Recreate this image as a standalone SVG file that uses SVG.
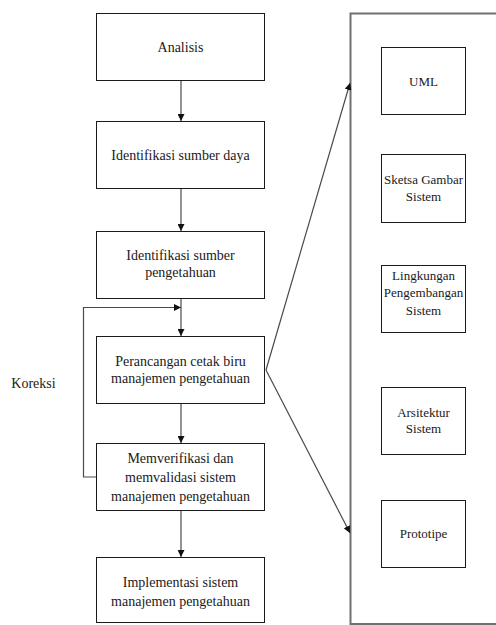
<svg xmlns="http://www.w3.org/2000/svg" width="496" height="625" viewBox="0 0 496 625">
  <style>
    .box { fill: #ffffff; stroke: #1a1a1a; stroke-width: 1; }
    .frame { fill: none; stroke: #707070; stroke-width: 2; }
    .link { fill: none; stroke: #4a4a4a; stroke-width: 1.2; }
    .lbl { font-family: 'Liberation Serif', 'Times New Roman', Times, Tinos, 'Nimbus Roman', 'Nimbus Roman No9 L', FreeSerif, 'Noto Serif', 'DejaVu Serif', serif; font-size: 14px; fill: #1a1a1a; text-anchor: middle; }
    .sm { font-size: 13px; }
  </style>
  <defs>
    <marker id="head" viewBox="0 0 10 10" refX="10" refY="5" markerWidth="7" markerHeight="7" markerUnits="userSpaceOnUse" orient="auto">
      <path d="M0,0 L10,5 L0,10 z" fill="#111111"/>
    </marker>
  </defs>

  <rect width="496" height="625" fill="#ffffff"/>

  <!-- Tool container on the right (open past the page edge) -->
  <g id="tools-frame">
    <path class="frame" d="M498,13.5 H350.5 V624 H498"/>
  </g>

  <!-- Connectors -->
  <g id="connectors">
    <line class="link" x1="181" y1="80" x2="181" y2="121" marker-end="url(#head)"/>
    <line class="link" x1="181" y1="189" x2="181" y2="231" marker-end="url(#head)"/>
    <line class="link" x1="181" y1="299" x2="181" y2="336" marker-end="url(#head)"/>
    <line class="link" x1="181" y1="404" x2="181" y2="443" marker-end="url(#head)"/>
    <line class="link" x1="181" y1="511" x2="181" y2="557" marker-end="url(#head)"/>
    <!-- correction loop -->
    <path class="link" d="M96,477 H83.5 V307.5 H181" marker-end="url(#head)"/>
    <!-- fan-out to the tool frame -->
    <line class="link" x1="266" y1="370" x2="350" y2="83" marker-end="url(#head)"/>
    <line class="link" x1="266" y1="370" x2="350" y2="533" marker-end="url(#head)"/>
  </g>

  <g id="koreksi">
    <text class="lbl" x="33.5" y="388">Koreksi</text>
  </g>

  <!-- Main process steps -->
  <g id="analisis">
    <rect class="box" x="96.5" y="13.5" width="168" height="67"/>
    <text class="lbl" x="180.5" y="52">Analisis</text>
  </g>
  <g id="identifikasi-sumber-daya">
    <rect class="box" x="96.5" y="121.5" width="168" height="67"/>
    <text class="lbl" x="180.5" y="160">Identifikasi sumber daya</text>
  </g>
  <g id="identifikasi-sumber-pengetahuan">
    <rect class="box" x="96.5" y="231.5" width="168" height="67"/>
    <text class="lbl" x="180.5" y="260">Identifikasi sumber</text>
    <text class="lbl" x="180.5" y="277">pengetahuan</text>
  </g>
  <g id="perancangan">
    <rect class="box" x="96.5" y="336.5" width="168" height="67"/>
    <text class="lbl" x="180.5" y="366">Perancangan cetak biru</text>
    <text class="lbl" x="180.5" y="383">manajemen pengetahuan</text>
  </g>
  <g id="verifikasi">
    <rect class="box" x="96.5" y="443.5" width="168" height="67"/>
    <text class="lbl" x="180.5" y="463">Memverifikasi dan</text>
    <text class="lbl" x="180.5" y="482">memvalidasi sistem</text>
    <text class="lbl" x="180.5" y="501">manajemen pengetahuan</text>
  </g>
  <g id="implementasi">
    <rect class="box" x="96.5" y="557.5" width="168" height="65"/>
    <text class="lbl" x="180.5" y="587">Implementasi sistem</text>
    <text class="lbl" x="180.5" y="606">manajemen pengetahuan</text>
  </g>

  <!-- Tool items -->
  <g id="uml">
    <rect class="box" x="381.5" y="47.5" width="84" height="67"/>
    <text class="lbl sm" x="423.5" y="86">UML</text>
  </g>
  <g id="sketsa">
    <rect class="box" x="381.5" y="154.5" width="84" height="68"/>
    <text class="lbl sm" x="423.5" y="184">Sketsa Gambar</text>
    <text class="lbl sm" x="423.5" y="201">Sistem</text>
  </g>
  <g id="lingkungan">
    <rect class="box" x="381.5" y="265.5" width="84" height="67"/>
    <text class="lbl sm" x="423.5" y="280">Lingkungan</text>
    <text class="lbl sm" x="423.5" y="297">Pengembangan</text>
    <text class="lbl sm" x="423.5" y="315">Sistem</text>
  </g>
  <g id="arsitektur">
    <rect class="box" x="381.5" y="387.5" width="84" height="67"/>
    <text class="lbl sm" x="423.5" y="417">Arsitektur</text>
    <text class="lbl sm" x="423.5" y="433">Sistem</text>
  </g>
  <g id="prototipe">
    <rect class="box" x="381.5" y="500.5" width="84" height="67"/>
    <text class="lbl sm" x="423.5" y="538">Prototipe</text>
  </g>
</svg>
